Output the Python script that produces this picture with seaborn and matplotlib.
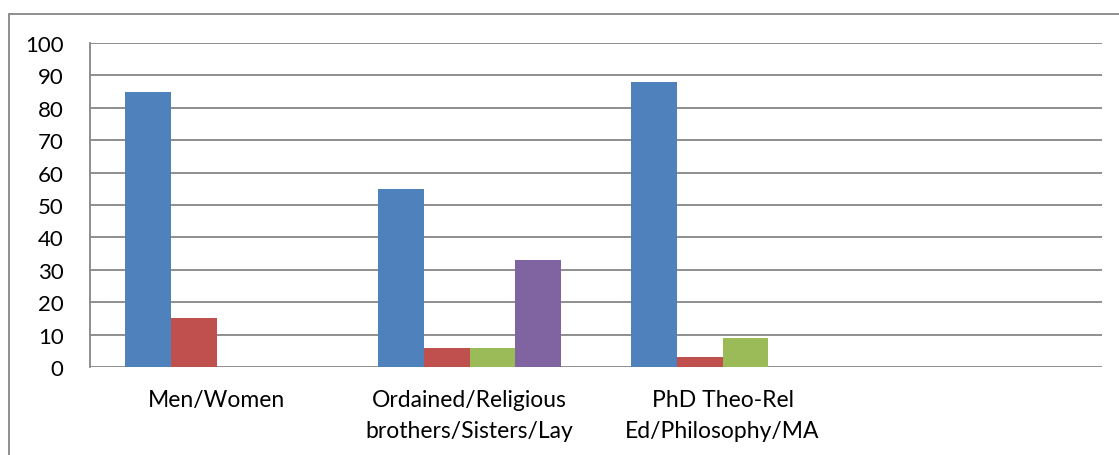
import matplotlib
matplotlib.use("Agg")
import matplotlib.pyplot as plt
import seaborn as sns
import pandas as pd
from matplotlib.patches import Rectangle

categories = ["Men/Women",
              "Ordained/Religious\nbrothers/Sisters/Lay",
              "PhD Theo-Rel\nEd/Philosophy/MA"]
series_names = ["Series1", "Series2", "Series3", "Series4"]
series1 = [85, 55, 88]
series2 = [15, 6, 3]
series3 = [0, 6, 9]
series4 = [0, 33, 0]
colors = ["#4F81BD", "#C0504D", "#9BBB59", "#8064A2"]
yticks = [0, 10, 20, 30, 40, 50, 60, 70, 80, 90, 100]

rows = []
for name, vals in zip(series_names, [series1, series2, series3, series4]):
    for c, v in zip(categories, vals):
        rows.append({"cat": c, "series": name, "value": v})
df = pd.DataFrame(rows)

sns.set_style("white")
plt.rcParams["font.family"] = ["Lato", "DejaVu Sans"]

W, H = 1119, 456
fig = plt.figure(figsize=(W / 100, H / 100), dpi=100)
ax = fig.add_axes([90 / W, (H - 368) / H, (1102 - 90) / W, (368 - 44) / H])

sns.barplot(data=df, x="cat", y="value", hue="series", order=categories,
            hue_order=series_names, palette=colors, width=0.727, saturation=1,
            linewidth=0, edgecolor="none", legend=False, ax=ax, zorder=3)

grid_col = "#868686"
ax.set_xlim(-0.5, 3.5)
ax.set_ylim(0, 100)
ax.set_yticks(yticks)
ax.set_yticklabels([str(t) for t in yticks], fontsize=16, color="black")
for t in yticks:
    ax.axhline(t, color=grid_col, lw=1.3, zorder=1)
ax.set_xticks([0, 1, 2])
ax.set_xticklabels(categories, fontsize=16.5, color="black", linespacing=1.6)
ax.set_xticks([-0.5, 0.5, 1.5, 2.5, 3.5], minor=True)
ax.tick_params(axis="x", which="major", length=0, pad=16)
ax.tick_params(axis="x", which="minor", length=6, width=1.3, color=grid_col, direction="out")
ax.tick_params(axis="y", length=7, width=1.3, color=grid_col, direction="out", pad=12)
ax.set_xlabel("")
ax.set_ylabel("")
for s in ["top", "right", "bottom"]:
    ax.spines[s].set_visible(False)
ax.spines["left"].set_color(grid_col)
ax.spines["left"].set_linewidth(1.3)

# outer chart border
fig.patches.append(Rectangle((9 / W, -0.1), 1.2, (H - 15) / H + 0.1,
                             transform=fig.transFigure, fill=False,
                             edgecolor=grid_col, lw=1.3))

fig.savefig("out.png", dpi=100)
